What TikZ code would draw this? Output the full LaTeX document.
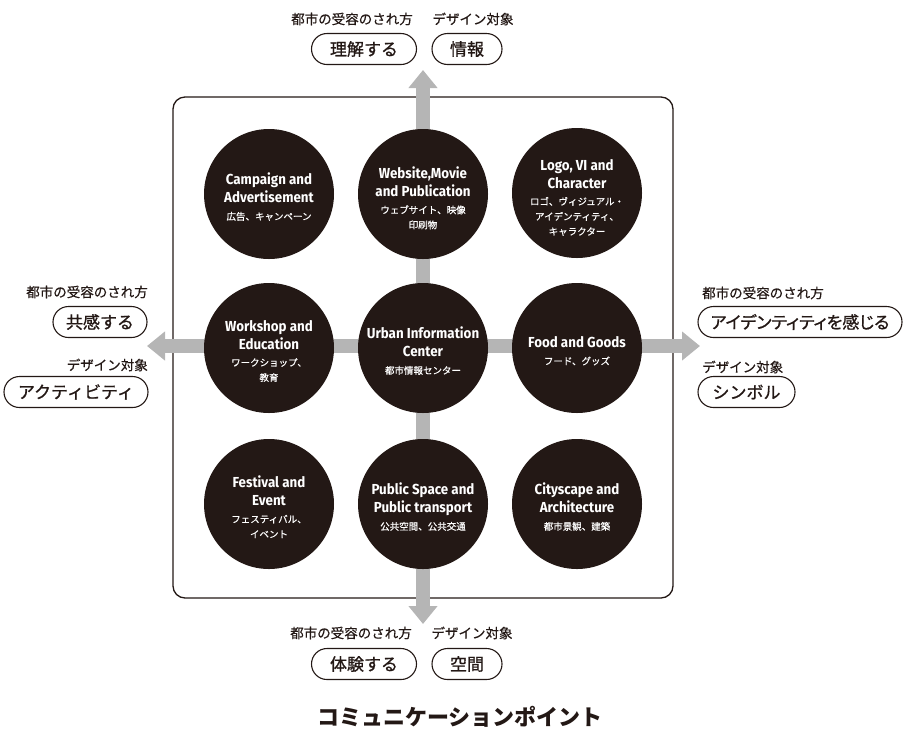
\documentclass[tikz,border=0pt]{standalone}
\usepackage{fontspec}
\setmainfont{Fira Sans}[FakeStretch=0.92]
\newfontfamily\jp{Noto Sans CJK JP}
\newfontfamily\jpm{Noto Sans CJK JP}[FakeBold=0.5]
\newfontfamily\jpp{Noto Sans CJK JP}[RawFeature=+palt,FakeBold=1]
\newfontfamily\jpb{Noto Sans CJK JP}[FakeBold=1]
\usetikzlibrary{arrows.meta,shapes.misc}
\definecolor{ink}{HTML}{231815}
\definecolor{axisgray}{HTML}{B5B5B5}
\newcommand\jl[1]{{\jpm\mdseries\fontsize{9.5}{15}\selectfont #1}}
\tikzset{
  bubble/.style={circle, fill=ink, minimum size=130pt, inner sep=0pt},
  bubtext/.style={inner sep=0pt, text=white, align=center,
    font=\bfseries\fontsize{14.5}{18}\selectfont},
  pill/.style={draw=ink, line width=1.1pt, rounded rectangle, minimum height=31pt,
    inner sep=0pt, text=ink, font=\jpb\fontsize{17}{20}\selectfont},
  lbl/.style={inner sep=0pt, text=ink, font=\jpm\fontsize{13.5}{16}\selectfont},
  axis/.style={line width=14pt, draw=axisgray,
    {Triangle[width=28pt,length=18pt]}-{Triangle[width=28pt,length=18pt]}},
  frame/.style={draw=ink, line width=1.3pt, rounded corners=12pt}
}
\begin{document}
\begin{tikzpicture}[x=1pt,y=-1pt]
\useasboundingbox (0,0) rectangle (904,729);
% frame
\draw[frame] (173,97) rectangle (673,598);
% axes
\coordinate (atop) at (423,70);
\coordinate (abot) at (423,624);
\coordinate (aleft) at (147,346);
\coordinate (aright) at (700,346);
\draw[axis] (atop) -- (abot);
\draw[axis] (aleft) -- (aright);
% circles
\node[bubble] (c1) at (269,194) {};
\node[bubble] (c2) at (423,194) {};
\node[bubble] (c3) at (577,193) {};
\node[bubble] (c4) at (269,348) {};
\node[bubble] (c5) at (423,348) {};
\node[bubble] (c6) at (577,348) {};
\node[bubble] (c7) at (269,504) {};
\node[bubble] (c8) at (423,504) {};
\node[bubble] (c9) at (577,504) {};
\node[bubtext] (t1) at ([yshift=-3pt]c1.center) {Campaign and\\Advertisement\\[-1pt]\jl{広告、キャンペーン}};
\node[bubtext] (t2) at ([yshift=-4pt]c2.center) {Website,Movie\\and Publication\\[-1pt]\jl{ウェブサイト、映像}\\[-3pt]\jl{印刷物}};
\node[bubtext] (t3) at ([yshift=-4.5pt]c3.center) {Logo, VI and\\Character\\[-1pt]\jl{ロゴ、ヴィジュアル・}\\[-3pt]\jl{アイデンティティ、}\\[-3pt]\jl{キャラクター}};
\node[bubtext] (t4) at ([yshift=-3pt]c4.center) {Workshop and\\Education\\[-1pt]\jl{ワークショップ、}\\[-3pt]\jl{教育}};
\node[bubtext] (t5) at ([yshift=-3pt]c5.center) {Urban Information\\Center\\[-1pt]\jl{都市情報センター}};
\node[bubtext] (t6) at ([yshift=-3pt]c6.center) {Food and Goods\\[-1pt]\jl{フード、グッズ}};
\node[bubtext] (t7) at ([yshift=-3pt]c7.center) {Festival and\\Event\\[-1pt]\jl{フェスティバル、}\\[-3pt]\jl{イベント}};
\node[bubtext] (t8) at ([yshift=-3pt]c8.center) {Public Space and\\Public transport\\[-1pt]\jl{公共空間、公共交通}};
\node[bubtext] (t9) at ([yshift=-3pt]c9.center) {Cityscape and\\Architecture\\[-1pt]\jl{都市景観、建築}};
% top labels
\node[lbl] (tl1) at (352,19) {都市の受容のされ方};
\node[lbl] (tl2) at (473,19) {デザイン対象};
\node[pill, minimum width=105pt] (tp1) at (364,49) {理解する};
\node[pill, minimum width=70pt] (tp2) at (467,49) {情報};
% bottom labels
\node[lbl] (bl1) at (351,633) {都市の受容のされ方};
\node[lbl] (bl2) at (472,633) {デザイン対象};
\node[pill, minimum width=105pt] (bp1) at (364,664) {体験する};
\node[pill, minimum width=70pt] (bp2) at (467,664) {空間};
% left labels
\node[lbl, anchor=east] (ll1) at (148,292) {都市の受容のされ方};
\node[pill, minimum width=94pt] (lp1) at (100,322) {共感する};
\node[lbl, anchor=east] (ll2) at (148,365) {デザイン対象};
\node[pill, minimum width=144pt] (lp2) at (76,392) {アクティビティ};
% right labels
\node[lbl, anchor=west] (rl1) at (702,293) {都市の受容のされ方};
\node[pill, minimum width=204pt, font=\jpp\fontsize{17}{20}\selectfont] (rp1) at (800,322) {アイデンティティを感じる};
\node[lbl, anchor=west] (rl2) at (702,367) {デザイン対象};
\node[pill, minimum width=97pt] (rp2) at (746.5,392) {シンボル};
% title
\node[inner sep=0pt, text=ink, font=\jp\bfseries\fontsize{22}{24}\selectfont] (title) at (460,717) {コミュニケーションポイント};
\end{tikzpicture}
\end{document}
